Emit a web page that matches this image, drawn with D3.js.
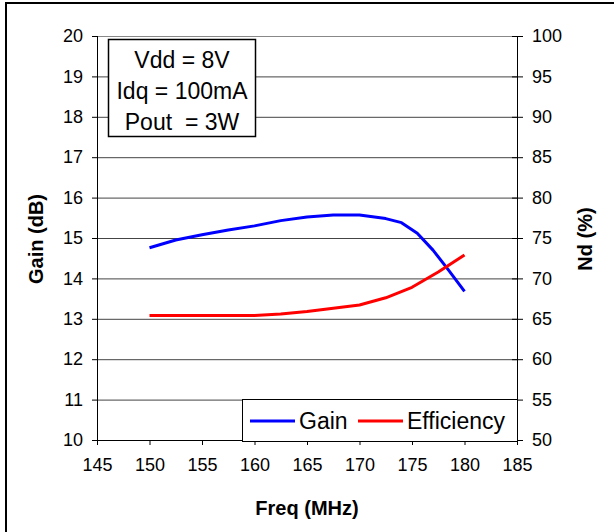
<!DOCTYPE html>
<html>
<head>
<meta charset="utf-8">
<script src="https://cdn.jsdelivr.net/npm/d3@7"></script>
<style>
  body { margin: 0; background: #fff; }
  text { font-family: "Liberation Sans", Arial, sans-serif; fill: #000; }
</style>
</head>
<body>
<div id="chart"></div>
<script>
// data
var freqTicks = [145, 150, 155, 160, 165, 170, 175, 180, 185];
var gainTicks = [10, 11, 12, 13, 14, 15, 16, 17, 18, 19, 20];
var effTicks = [50, 55, 60, 65, 70, 75, 80, 85, 90, 95, 100];

var gainFreq = [150, 152.5, 155, 157.5, 160, 162.5, 165, 167.5, 170, 172.5, 174, 175.5, 177, 178.5, 180];
var gainVals = [14.76, 14.95, 15.08, 15.2, 15.3, 15.43, 15.52, 15.57, 15.57, 15.48, 15.38, 15.12, 14.7, 14.2, 13.68];

var effFreq = [150, 155, 160, 162.5, 165, 167.5, 170, 172.5, 175, 177.5, 180];
var effVals = [65.4, 65.4, 65.4, 65.6, 65.9, 66.3, 66.7, 67.6, 68.9, 70.8, 72.9];

var infoLines = ["Vdd = 8V", "Idq = 100mA", "Pout  = 3W"];

var W = 614, H = 532;
var margin = {top: 36, right: 97, bottom: 92, left: 97};
var width = W - margin.left - margin.right;
var height = H - margin.top - margin.bottom;

var svg = d3.select("#chart").append("svg")
    .attr("width", W)
    .attr("height", H);

// outer frame
svg.append("rect")
    .attr("x", 6).attr("y", 3)
    .attr("width", W + 10).attr("height", H + 10)
    .attr("fill", "none")
    .attr("stroke", "#000")
    .attr("stroke-width", 2);

var g = svg.append("g")
    .attr("transform", "translate(" + margin.left + "," + margin.top + ")");

var x = d3.scaleLinear().domain([145, 185]).range([0, width]);
var yL = d3.scaleLinear().domain([10, 20]).range([height, 0]);
var yR = d3.scaleLinear().domain([50, 100]).range([height, 0]);

// gridlines
g.selectAll(".grid")
    .data(gainTicks.slice(1))
    .enter()
    .append("line")
    .attr("class", "grid")
    .attr("x1", 0).attr("x2", width)
    .attr("y1", function(d) { return yL(d) + 0.5; })
    .attr("y2", function(d) { return yL(d) + 0.5; })
    .attr("stroke", function(d) { return d === 20 ? "#888" : "#444"; })
    .attr("stroke-width", 1);

// axes
var xAxis = d3.axisBottom(x).tickValues(freqTicks).tickSize(5).tickPadding(13);
var leftAxis = d3.axisLeft(yL).tickValues(gainTicks).tickSize(5).tickPadding(9);
var rightAxis = d3.axisRight(yR).tickValues(effTicks).tickSize(6).tickPadding(9);

function styleAxis(sel) {
    sel.select(".domain").remove();
    sel.selectAll("line").attr("stroke", "#000");
    sel.selectAll("text").style("font-size", "18px").attr("fill", "#000");
}

var gx = g.append("g")
    .attr("transform", "translate(0," + height + ")")
    .call(xAxis);
styleAxis(gx);

var gl = g.append("g").call(leftAxis);
styleAxis(gl);

var gr = g.append("g")
    .attr("transform", "translate(" + width + ",0)")
    .call(rightAxis);
styleAxis(gr);
gr.selectAll(".tick line").attr("x1", -5);

// axis lines
g.append("line")
    .attr("x1", 0).attr("x2", width)
    .attr("y1", height + 0.5).attr("y2", height + 0.5)
    .attr("stroke", "#000");
g.append("line")
    .attr("x1", 0.5).attr("x2", 0.5)
    .attr("y1", 0).attr("y2", height)
    .attr("stroke", "#000");
g.append("line")
    .attr("x1", width + 0.5).attr("x2", width + 0.5)
    .attr("y1", 0).attr("y2", height)
    .attr("stroke", "#000");

// series
var gainLine = d3.line()
    .x(function(d) { return x(d[0]); })
    .y(function(d) { return yL(d[1]); });
var effLine = d3.line()
    .x(function(d) { return x(d[0]); })
    .y(function(d) { return yR(d[1]); });

g.append("path")
    .datum(d3.zip(gainFreq, gainVals))
    .attr("d", gainLine)
    .attr("fill", "none")
    .attr("stroke", "#0000ff")
    .attr("stroke-width", 3)
    .attr("stroke-linejoin", "round");

g.append("path")
    .datum(d3.zip(effFreq, effVals))
    .attr("d", effLine)
    .attr("fill", "none")
    .attr("stroke", "#ff0000")
    .attr("stroke-width", 3)
    .attr("stroke-linejoin", "round");

// info box
var info = svg.append("g").attr("transform", "translate(108,39)");
info.append("rect")
    .attr("x", 0.5).attr("y", 0.5)
    .attr("width", 147).attr("height", 97)
    .attr("fill", "#fff")
    .attr("stroke", "#000")
    .attr("stroke-width", 1.5);
info.selectAll("text")
    .data(infoLines)
    .enter()
    .append("text")
    .attr("x", 74)
    .attr("y", function(d, i) { return 29 + i * 31; })
    .attr("text-anchor", "middle")
    .style("font-size", "23px")
    .style("white-space", "pre")
    .text(function(d) { return d; });

// legend
var legend = svg.append("g").attr("transform", "translate(242,399)");
legend.append("rect")
    .attr("x", 0.5).attr("y", 0.5)
    .attr("width", 275).attr("height", 42)
    .attr("fill", "#fff")
    .attr("stroke", "#000")
    .attr("stroke-width", 1);
legend.append("line")
    .attr("x1", 8).attr("x2", 53).attr("y1", 22).attr("y2", 22)
    .attr("stroke", "#0000ff").attr("stroke-width", 3);
legend.append("text")
    .attr("x", 57).attr("y", 30)
    .style("font-size", "23px")
    .text("Gain");
legend.append("line")
    .attr("x1", 116).attr("x2", 161).attr("y1", 22).attr("y2", 22)
    .attr("stroke", "#ff0000").attr("stroke-width", 3);
legend.append("text")
    .attr("x", 165).attr("y", 30)
    .style("font-size", "23px")
    .text("Efficiency");

// axis titles
svg.append("text")
    .attr("transform", "translate(43,239) rotate(-90)")
    .attr("text-anchor", "middle")
    .style("font-size", "20px")
    .style("font-weight", "bold")
    .text("Gain (dB)");

svg.append("text")
    .attr("transform", "translate(592,239) rotate(-90)")
    .attr("text-anchor", "middle")
    .style("font-size", "20px")
    .style("font-weight", "bold")
    .text("Nd (%)");

svg.append("text")
    .attr("x", 307).attr("y", 515)
    .attr("text-anchor", "middle")
    .style("font-size", "20px")
    .style("font-weight", "bold")
    .text("Freq (MHz)");
</script>
</body>
</html>
